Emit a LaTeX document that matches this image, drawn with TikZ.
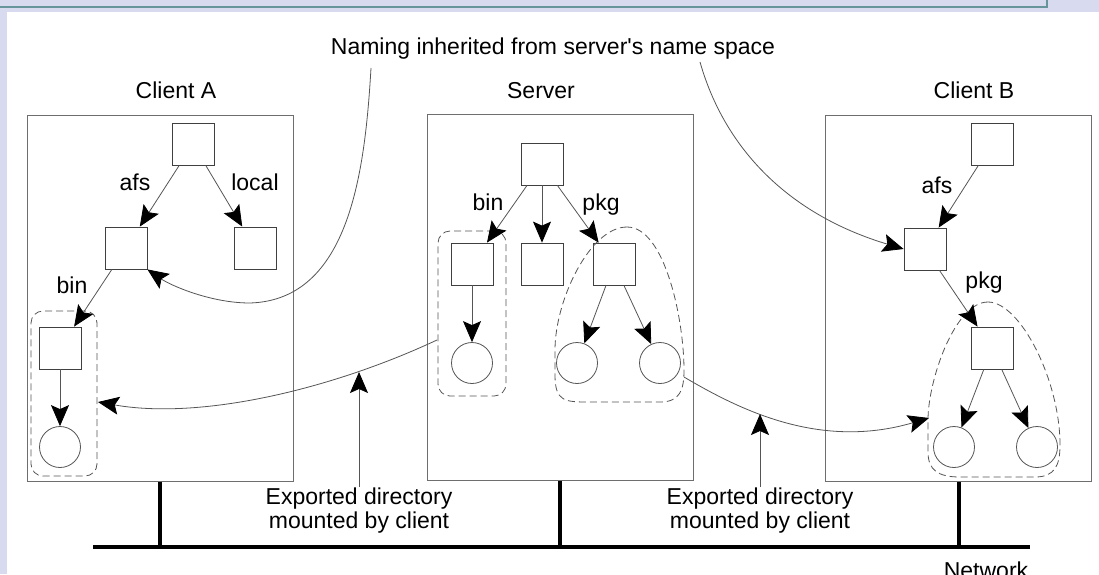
\documentclass[tikz,border=0pt]{standalone}
\usepackage{fontspec}
\newfontfamily\diagfont{Liberation Sans}
\usetikzlibrary{arrows.meta}
\definecolor{framebg}{RGB}{216,218,240}
\definecolor{frameline}{RGB}{104,148,156}
\definecolor{linegray}{RGB}{85,85,85}
\definecolor{boxgray}{RGB}{110,110,110}

\begin{document}
\begin{tikzpicture}[x=1pt, y=-1pt, font=\diagfont\fontsize{23}{24}\selectfont,
    hostbox/.style={draw=boxgray, line width=1pt, minimum width=266pt, minimum height=366pt, inner sep=0pt},
    dirbox/.style={draw=black!75, line width=0.8pt, minimum size=42pt, inner sep=0pt},
    filenode/.style={draw=linegray, circle, line width=0.8pt, minimum size=41pt, inner sep=0pt},
    grp/.style={draw=linegray, dash pattern=on 7pt off 4pt, rounded corners=12pt, line width=0.8pt, inner sep=0pt},
    blob/.style={draw=linegray, dash pattern=on 7pt off 4pt, line width=0.8pt},
    link/.style={draw=linegray, line width=0.8pt, -{Stealth[length=21pt,width=18pt,inset=4pt,color=black]}},
    lbl/.style={anchor=base, inner sep=0pt},
    netline/.style={line width=4pt}]
    \useasboundingbox (0,0) rectangle (1099,574);
    \fill[framebg] (0,0) rectangle (1099,574);
    \fill[white] (7,12) rectangle (1099,574);
    \draw[frameline, line width=1.5pt] (0,7) -- (1047,7) -- (1047,0);

    \node[hostbox] (clienta) at (160,298) {};
    \node[hostbox] (server) at (560,297.5) {};
    \node[hostbox] (clientb) at (958.5,298) {};
    \node[lbl] (lclienta) at (176,98) {Client A};
    \node[lbl] (lserver) at (541,98) {Server};
    \node[lbl] (lclientb) at (974,98) {Client B};
    \node[lbl] (naming) at (553,54) {Naming inherited from server's name space};

    \node[dirbox] (aroot) at (193,144) {};
    \node[dirbox] (aafs) at (126,248) {};
    \node[dirbox] (alocal) at (255,248) {};
    \node[dirbox] (abin) at (60,348) {};
    \node[filenode] (afile) at (60,447) {};
    \node[grp, minimum width=66pt, minimum height=165pt] (agrp) at (64,393.5) {};
    \node[lbl] (lafs) at (135,190) {afs};
    \node[lbl] (llocal) at (255,190) {local};
    \node[lbl] (labin) at (72,293) {bin};
    \draw[link] (aroot) -- (aafs);
    \draw[link] (aroot) -- (alocal);
    \draw[link] (aafs) -- (abin);
    \draw[link] (abin) -- (afile);

    \node[dirbox] (sroot) at (542,164) {};
    \node[dirbox] (sbin) at (472,264) {};
    \node[dirbox] (smid) at (542,264) {};
    \node[dirbox] (spkg) at (614,264) {};
    \node[filenode] (sfile) at (472,363) {};
    \node[filenode] (sfa) at (577,363) {};
    \node[filenode] (sfb) at (660,363) {};
    \node[grp, minimum width=68pt, minimum height=165pt] (sgrp) at (472,313.5) {};
    \draw[blob] (627,227) .. controls (590,227) and (555,300) .. (555,350) -- (555,375)
        .. controls (555,402) and (565,402) .. (590,402) -- (660,402)
        .. controls (680,402) and (684,390) .. (684,370)
        .. controls (684,320) and (665,227) .. (627,227) -- cycle;
    \node[lbl] (lsbin) at (488,210) {bin};
    \node[lbl] (lspkg) at (601,210) {pkg};
    \draw[link] (sroot) -- (sbin);
    \draw[link] (sroot) -- (smid);
    \draw[link] (sroot) -- (spkg);
    \draw[link] (sbin) -- (sfile);
    \draw[link] (spkg) -- (sfa);
    \draw[link] (spkg) -- (sfb);

    \node[dirbox] (broot) at (992,144) {};
    \node[dirbox] (bafs) at (925,249) {};
    \node[dirbox] (bpkg) at (992,348) {};
    \node[filenode] (bfa) at (954,447) {};
    \node[filenode] (bfb) at (1037,447) {};
    \draw[blob] (988,302) .. controls (955,302) and (928,380) .. (928,420) -- (928,452)
        .. controls (928,470) and (938,477) .. (960,477) -- (1035,477)
        .. controls (1055,477) and (1060,465) .. (1060,445)
        .. controls (1060,380) and (1020,302) .. (988,302) -- cycle;
    \node[lbl] (lbafs) at (937,193) {afs};
    \node[lbl] (lbpkg) at (984,288) {pkg};
    \draw[link] (broot) -- (bafs);
    \draw[link] (bafs) -- (bpkg);
    \draw[link] (bpkg) -- (bfa);
    \draw[link] (bpkg) -- (bfb);

    \coordinate (nameA) at (371,68);
    \coordinate (nameB) at (700,62);
    \coordinate (sbinout) at (437,340);
    \coordinate (ain) at (98,402);
    \coordinate (spkgout) at (684,377);
    \coordinate (bin) at (929,418);
    \draw[link] (nameA) .. controls (365,170) and (350,300) .. (250,303)
        .. controls (210,303) and (170,285) .. (aafs.south east);
    \draw[link] (nameB) .. controls (725,150) and (790,215) .. (bafs.west);
    \draw[link] (sbinout) .. controls (330,390) and (200,420) .. (ain);
    \draw[link] (spkgout) .. controls (740,410) and (820,450) .. (bin);

    \node[align=center, anchor=north, inner sep=1pt] (expa) at (359,487) {Exported directory\\mounted by client};
    \node[align=center, anchor=north, inner sep=1pt] (expb) at (760,487) {Exported directory\\mounted by client};
    \coordinate (tipa) at (359,372);
    \coordinate (tipb) at (760,414);
    \draw[link] (expa.north) -- (tipa);
    \draw[link] (expb.north) -- (tipb);

    \coordinate (netl) at (93,547);
    \coordinate (netr) at (1030,547);
    \draw[netline] (netl) -- (netr);
    \draw[netline] (clienta.south) -- (clienta.south |- netl);
    \draw[netline] (server.south) -- (server.south |- netl);
    \draw[netline] (clientb.south) -- (clientb.south |- netl);
    \node[lbl] (netlbl) at (986,578) {Network};
\end{tikzpicture}
\end{document}
